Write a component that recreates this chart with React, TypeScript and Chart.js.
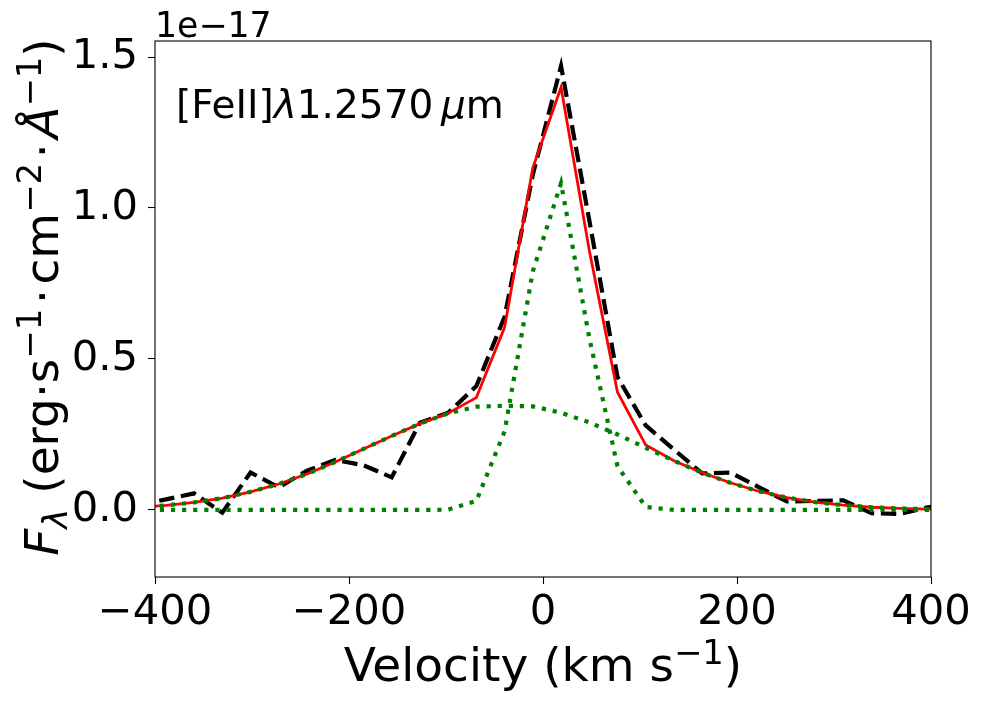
import { useEffect, useRef } from "react"
import { Chart, registerables } from "chart.js"

Chart.register(...registerables)

// velocity grid (km/s) of the spectrum
const velocity = [
  -417.9, -388.8, -359.7, -330.6, -301.5, -272.4, -243.3, -214.2, -185.1, -156.0,
  -126.9, -97.8, -68.7, -39.6, -10.5, 18.6, 47.7, 76.8, 105.9, 135.0,
  164.1, 193.2, 222.3, 251.4, 280.5, 309.6, 338.7, 367.8, 396.9, 426.0,
]

// observed flux (x 1e-17)
const observed = [
  0.015, 0.035, 0.055, -0.009, 0.124, 0.075, 0.13, 0.166, 0.148, 0.108,
  0.289, 0.322, 0.41, 0.64, 1.11, 1.47, 0.96, 0.44, 0.28, 0.2,
  0.121, 0.124, 0.076, 0.028, 0.03, 0.032, -0.011, -0.013, 0.009, 0.02,
]

// total fit
const totalFit = [
  0.009, 0.015, 0.025, 0.039, 0.06, 0.086, 0.119, 0.159, 0.202, 0.245,
  0.286, 0.32, 0.372, 0.605, 1.133, 1.40, 0.86, 0.39, 0.215, 0.163,
  0.123, 0.09, 0.062, 0.041, 0.026, 0.016, 0.009, 0.005, 0.003, 0.001,
]

// broad gaussian component
const broadComp = [
  0.009, 0.015, 0.025, 0.039, 0.06, 0.086, 0.119, 0.159, 0.202, 0.245,
  0.286, 0.32, 0.342, 0.345, 0.343, 0.322, 0.29, 0.25, 0.206, 0.163,
  0.123, 0.09, 0.062, 0.041, 0.026, 0.016, 0.009, 0.005, 0.003, 0.001,
]

// narrow gaussian component
const narrowComp = [
  0, 0, 0, 0, 0, 0, 0, 0, 0, 0,
  0, 0.001, 0.03, 0.26, 0.79, 1.082, 0.57, 0.145, 0.01, 0,
  0, 0, 0, 0, 0, 0, 0, 0, 0, 0,
]

const xTicks = [-400, -200, 0, 200, 400]
const yTicks = [0, 0.5, 1.0, 1.5]

const FONT = "'DejaVu Sans', sans-serif"

type Seg = { t: string; it?: boolean; sup?: boolean; sub?: boolean }

const xLabel: Seg[] = [{ t: "Velocity (km s" }, { t: "\u22121", sup: true }, { t: ")" }]
const yLabel: Seg[] = [
  { t: "F", it: true },
  { t: "\u03bb", it: true, sub: true },
  { t: " (erg\u00b7s" },
  { t: "\u22121", sup: true },
  { t: "\u200a\u00b7\u200acm" },
  { t: "\u22122", sup: true },
  { t: "\u200a\u00b7\u200a" },
  { t: "\u00c5", it: true },
  { t: "\u22121", sup: true },
  { t: ")" },
]
const lineLabel: Seg[] = [
  { t: "[FeII]" },
  { t: "\u03bb", it: true },
  { t: "1.2570\u2009" },
  { t: "\u03bc", it: true },
  { t: "m" },
]

function drawRich(ctx: CanvasRenderingContext2D, segs: Seg[], x: number, y: number, size: number, center: boolean) {
  const parts = segs.map((s) => {
    const fs = s.sup || s.sub ? size * 0.72 : size
    const font = `${s.it ? "italic " : ""}${fs}px ${FONT}`
    ctx.font = font
    const dy = s.sup ? -size * 0.36 : s.sub ? size * 0.2 : 0
    return { t: s.t, font, dy, w: ctx.measureText(s.t).width }
  })
  const total = parts.reduce((a, p) => a + p.w, 0)
  let cx = center ? x - total / 2 : x
  ctx.textAlign = "left"
  ctx.textBaseline = "alphabetic"
  for (const p of parts) {
    ctx.font = p.font
    ctx.fillText(p.t, cx, y + p.dy)
    cx += p.w
  }
}

const textPlugin = {
  id: "textPlugin",
  afterDraw(chart: Chart) {
    const { ctx, chartArea } = chart
    ctx.save()
    ctx.strokeStyle = "#000"
    ctx.lineWidth = 1.1
    ctx.strokeRect(chartArea.left, chartArea.top, chartArea.right - chartArea.left, chartArea.bottom - chartArea.top)
    ctx.fillStyle = "#000"
    drawRich(ctx, xLabel, (chartArea.left + chartArea.right) / 2, 681, 47, true)
    drawRich(ctx, [{ t: "1e\u221217" }], chartArea.left, 37, 34.7, false)
    drawRich(ctx, lineLabel, 176, 118, 39, false)
    ctx.translate(58, 297)
    ctx.rotate(-Math.PI / 2)
    drawRich(ctx, yLabel, 0, 0, 47, true)
    ctx.restore()
  },
}

export default function App() {
  const chartRef = useRef<HTMLCanvasElement>(null)
  const chartInstance = useRef<Chart | null>(null)

  useEffect(() => {
    if (!chartRef.current) return
    if (chartInstance.current) {
      chartInstance.current.destroy()
    }
    const ctx = chartRef.current.getContext("2d")
    if (!ctx) return

    const pts = (ys: number[]) => velocity.map((v, i) => ({ x: v, y: ys[i] }))

    chartInstance.current = new Chart(ctx, {
      type: "line",
      data: {
        datasets: [
          {
            label: "narrow",
            data: pts(narrowComp),
            borderColor: "#008000",
            borderWidth: 4.2,
            borderDash: [4.2, 6.9],
            borderCapStyle: "butt",
            pointRadius: 0,
            order: 0,
          },
          {
            label: "broad",
            data: pts(broadComp),
            borderColor: "#008000",
            borderWidth: 4.2,
            borderDash: [4.2, 6.9],
            borderCapStyle: "butt",
            pointRadius: 0,
            order: 1,
          },
          {
            label: "fit",
            data: pts(totalFit),
            borderColor: "#ff0000",
            borderWidth: 2.8,
            pointRadius: 0,
            order: 2,
          },
          {
            label: "data",
            data: pts(observed),
            borderColor: "#000000",
            borderWidth: 4.2,
            borderDash: [15.4, 6.7],
            borderCapStyle: "butt",
            pointRadius: 0,
            order: 3,
          },
        ],
      },
      options: {
        animation: false,
        responsive: true,
        maintainAspectRatio: false,
        layout: { padding: { top: 41, right: 51, left: 0, bottom: 0 } },
        plugins: {
          legend: { display: false },
          tooltip: { enabled: false },
        },
        scales: {
          x: {
            type: "linear",
            min: -400,
            max: 400,
            afterBuildTicks: (s: any) => {
              s.ticks = xTicks.map((v) => ({ value: v }))
            },
            afterFit: (s: any) => {
              s.height = 129
            },
            ticks: {
              font: { family: FONT, size: 41.7 },
              color: "#000",
              padding: 4,
              maxRotation: 0,
              autoSkip: false,
              callback: (v: any) => String(v).replace("-", "\u2212"),
            },
            grid: { drawOnChartArea: false, tickLength: 7, color: "#000", tickWidth: 1.1 },
            border: { display: false },
          },
          y: {
            type: "linear",
            min: -0.222,
            max: 1.553,
            afterBuildTicks: (s: any) => {
              s.ticks = yTicks.map((v) => ({ value: v }))
            },
            afterFit: (s: any) => {
              s.width = 155
            },
            ticks: {
              font: { family: FONT, size: 41.7 },
              color: "#000",
              padding: 10,
              callback: (v: any) => Number(v).toFixed(1),
            },
            grid: { drawOnChartArea: false, tickLength: 7, color: "#000", tickWidth: 1.1 },
            border: { display: false },
          },
        },
      },
      plugins: [textPlugin],
    })

    return () => {
      if (chartInstance.current) {
        chartInstance.current.destroy()
        chartInstance.current = null
      }
    }
  }, [])

  return (
    <div style={{ position: "fixed", left: 0, top: 0, width: 982, height: 706, background: "#fff" }}>
      <canvas ref={chartRef} />
    </div>
  )
}
